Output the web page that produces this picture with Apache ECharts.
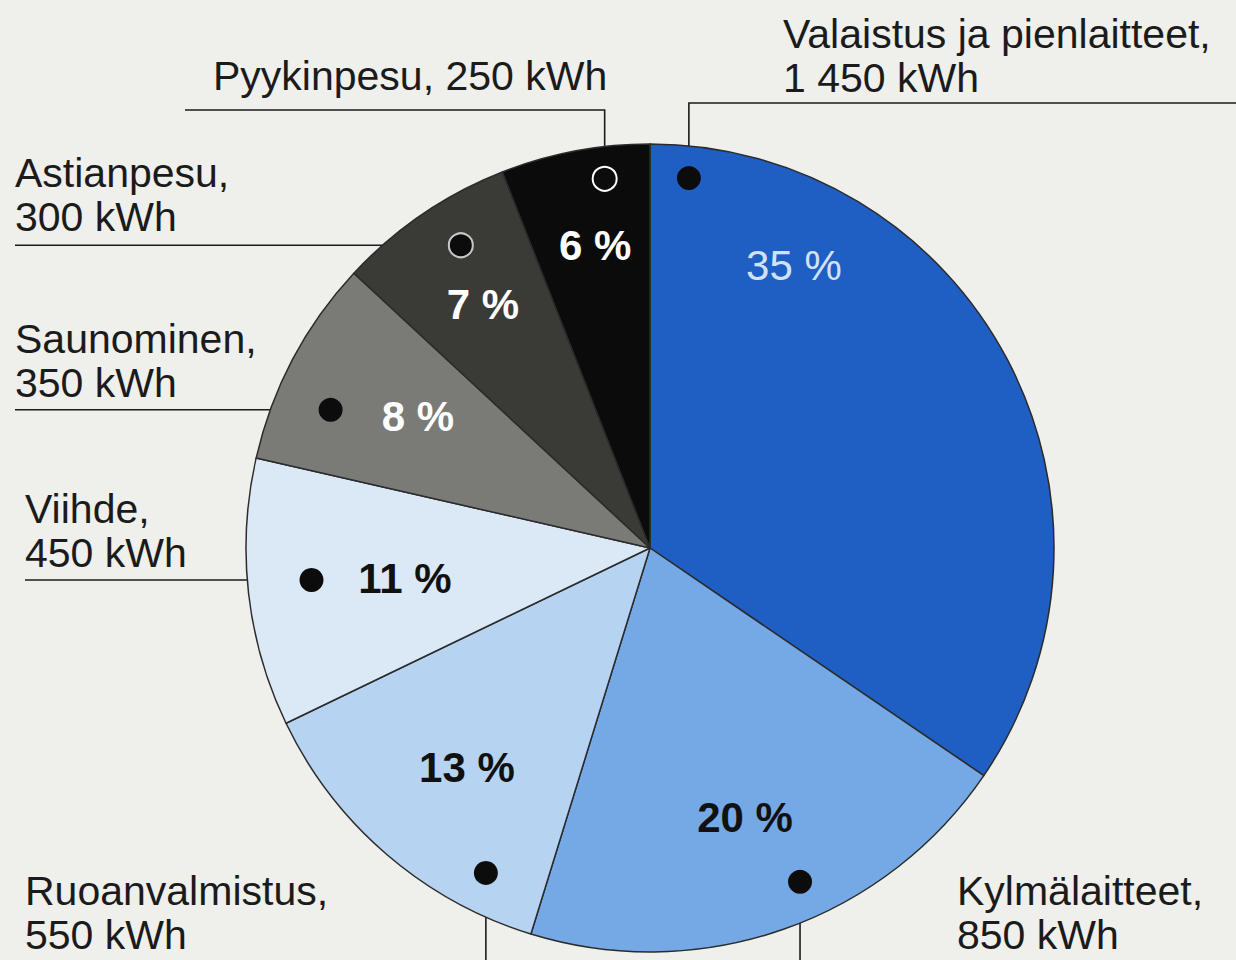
<!DOCTYPE html>
<html>
<head>
<meta charset="utf-8">
<title>Sähkönkulutus</title>
<script src="https://cdn.jsdelivr.net/npm/echarts@6.0.0/dist/echarts.min.js"></script>
<style>
  html, body { margin: 0; padding: 0; background: #efefec; }
  #chart { width: 1236px; height: 960px; }
</style>
</head>
<body>
<div id="chart"></div>
<script>
// data, clockwise from 12 o'clock
const categories = ['Valaistus ja pienlaitteet', 'Kylmälaitteet', 'Ruoanvalmistus', 'Viihde', 'Saunominen', 'Astianpesu', 'Pyykinpesu'];
const usageKwh = [1450, 850, 550, 450, 350, 300, 250];

// look
const sliceColors = ['#1f5fc4', '#74a9e6', '#b6d3f1', '#dbe9f7', '#7a7a76', '#3a3a37', '#0b0b0b'];
const pctColors = ['#d2e2f6', '#111', '#111', '#111', '#fff', '#fff', '#fff'];
const pctWeights = ['normal', 'bold', 'bold', 'bold', 'bold', 'bold', 'bold'];
const oneLineLabel = [false, false, false, false, false, false, true];

// placement of percent text and dots: [angle from top, clockwise, radius px]
const CENTER = [650, 548];
const RADIUS = 404;
const pctSpots = [[27, 317], [160.6, 286], [219.8, 286], [263, 247], [299.6, 267], [325.5, 295], [349.7, 307]];
const dotSpots = [[6, 372], [155.8, 366], [206.8, 364], [264.6, 340], [293.4, 348], [328, 357], [353, 372]];
const dotStroke = [null, null, null, null, null, '#c8c8c8', '#ffffff'];
const leaderSpots = [
  { text: [783, 12], turnY: 103, endX: 1236 },
  { text: [957, 869], downTo: 960 },
  { text: [25, 869], downTo: 960 },
  { text: [25, 487], endX: 25 },
  { text: [15, 317], endX: 15 },
  { text: [15, 151], endX: 15 },
  { text: [213, 54], turnY: 110, endX: 185 }
];

function polar(angle, r) {
  const a = angle * Math.PI / 180;
  return [CENTER[0] + r * Math.sin(a), CENTER[1] - r * Math.cos(a)];
}

function fmtKwh(v) {
  return String(v).replace(/\B(?=(\d{3})+(?!\d))/g, ' ') + ' kWh';
}

function leaderPoints(i) {
  const s = leaderSpots[i];
  const d = polar(dotSpots[i][0], dotSpots[i][1]);
  if (s.downTo) return [d, [d[0], s.downTo]];
  if (s.turnY) return [d, [d[0], s.turnY], [s.endX, s.turnY]];
  return [d, [s.endX, d[1]]];
}

const pieData = categories.map((name, i) => ({
  name: name,
  value: usageKwh[i],
  itemStyle: { color: sliceColors[i] },
  label: { color: pctColors[i], fontWeight: pctWeights[i] }
}));

const chart = echarts.init(document.getElementById('chart'), null, { renderer: 'svg' });

chart.setOption({
  backgroundColor: '#efefec',
  animation: false,
  textStyle: { fontFamily: '"Liberation Sans", Arial, sans-serif' },
  series: [
    {
      // slices + percentages
      type: 'pie',
      center: CENTER,
      radius: RADIUS,
      startAngle: 90,
      clockwise: true,
      percentPrecision: 0,
      silent: true,
      emphasis: { disabled: true },
      itemStyle: { borderColor: '#2b2b2b', borderWidth: 1.5 },
      label: {
        show: true,
        position: 'inside',
        fontSize: 42,
        formatter: p => p.percent + ' %'
      },
      labelLayout: p => {
        const xy = polar(pctSpots[p.dataIndex][0], pctSpots[p.dataIndex][1]);
        return { x: xy[0], y: xy[1], align: 'center', verticalAlign: 'middle' };
      },
      data: pieData
    },
    {
      // names + kWh with leader lines
      type: 'pie',
      center: CENTER,
      radius: RADIUS,
      startAngle: 90,
      clockwise: true,
      silent: true,
      emphasis: { disabled: true },
      itemStyle: { color: 'rgba(0,0,0,0)', borderWidth: 0 },
      label: {
        show: true,
        position: 'outside',
        fontSize: 41,
        lineHeight: 44,
        overflow: 'none',
        color: '#1b1b1b',
        formatter: p => p.name + (oneLineLabel[p.dataIndex] ? ', ' : ',\n') + fmtKwh(p.value)
      },
      labelLine: {
        show: true,
        lineStyle: { color: '#1b1b1b', width: 1.6 }
      },
      labelLayout: p => {
        const s = leaderSpots[p.dataIndex];
        return {
          x: s.text[0],
          y: s.text[1],
          align: 'left',
          verticalAlign: 'top',
          labelLinePoints: leaderPoints(p.dataIndex)
        };
      },
      data: categories.map((name, i) => ({ name: name, value: usageKwh[i] }))
    }
  ],
  graphic: dotSpots.map((s, i) => {
    const xy = polar(s[0], s[1]);
    return {
      type: 'circle',
      z: 100,
      silent: true,
      shape: { cx: xy[0], cy: xy[1], r: 12 },
      style: {
        fill: '#0c0c0c',
        stroke: dotStroke[i] || '#0c0c0c',
        lineWidth: dotStroke[i] ? 2 : 0
      }
    };
  })
});
</script>
</body>
</html>
